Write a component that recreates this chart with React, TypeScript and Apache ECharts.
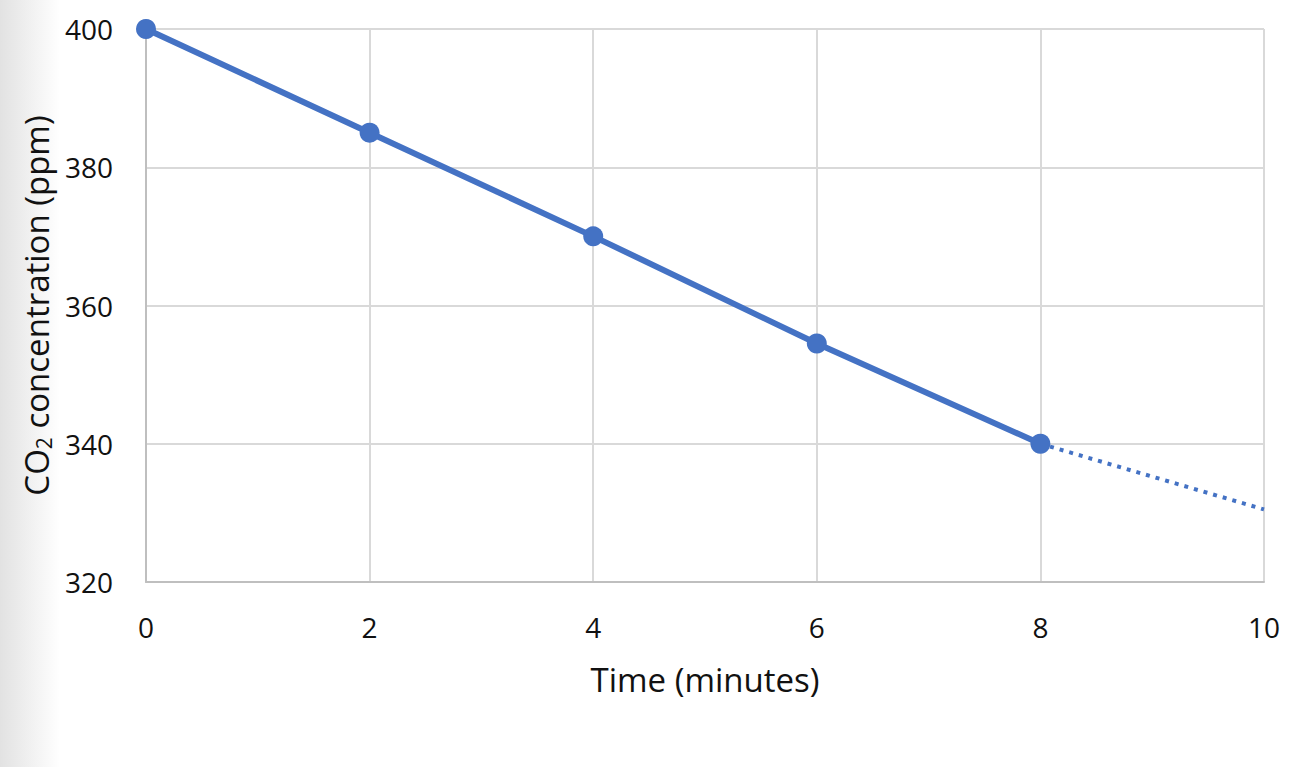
import React, { useEffect, useRef } from "react";
import * as echarts from "echarts";

const times = [0, 2, 4, 6, 8];
const co2 = [400, 385, 370, 354.5, 340];
const trendTimes = [8, 10];
const trendCo2 = [340, 330.5];
const xTicks = [0, 2, 4, 6, 8, 10];
const yTicks = [320, 340, 360, 380, 400];

const FONT = "'Open Sans', 'Noto Sans', sans-serif";
const BLUE = "#4472C4";

export default function App() {
  const ref = useRef<HTMLDivElement>(null);
  useEffect(() => {
    document.body.style.margin = "0";
    const chart = echarts.init(ref.current!, null, { renderer: "svg" });
    chart.setOption({
      animation: false,
      backgroundColor: "#ffffff",
      graphic: [
        {
          type: "rect",
          left: 0,
          top: 0,
          z: -10,
          shape: { width: 60, height: 767 },
          style: {
            fill: new echarts.graphic.LinearGradient(0, 0, 1, 0, [
              { offset: 0, color: "#e2e2e2" },
              { offset: 1, color: "#ffffff" },
            ]),
          },
        },
      ],
      grid: { left: 146, right: 38, top: 29, bottom: 185 },
      xAxis: {
        type: "value",
        min: xTicks[0],
        max: xTicks[xTicks.length - 1],
        interval: 2,
        name: "Time (minutes)",
        nameLocation: "middle",
        nameGap: 81,
        nameTextStyle: { fontFamily: FONT, fontSize: 33, color: "#111" },
        axisLine: { show: true, lineStyle: { color: "#bfbfbf", width: 2 } },
        axisTick: { show: false },
        axisLabel: { fontFamily: FONT, fontSize: 28, color: "#111", margin: 31 },
        splitLine: { show: true, lineStyle: { color: "#d9d9d9", width: 2 } },
      },
      yAxis: {
        type: "value",
        min: yTicks[0],
        max: yTicks[yTicks.length - 1],
        interval: 20,
        name: "CO{sub|2} concentration (ppm)",
        nameLocation: "middle",
        nameRotate: 90,
        nameGap: 90,
        nameTextStyle: {
          fontFamily: FONT,
          fontSize: 33,
          color: "#111",
          rich: {
            sub: { fontFamily: FONT, fontSize: 21, color: "#111", verticalAlign: "bottom", padding: [14, 0, 0, 0] },
          },
        },
        axisLine: { show: true, lineStyle: { color: "#bfbfbf", width: 2 } },
        axisTick: { show: false },
        axisLabel: { fontFamily: FONT, fontSize: 28, color: "#111", margin: 33 },
        splitLine: { show: true, lineStyle: { color: "#d9d9d9", width: 2 } },
      },
      series: [
        {
          type: "line",
          data: trendTimes.map((t, i) => [t, trendCo2[i]]),
          showSymbol: false,
          lineStyle: { color: BLUE, width: 4, type: [4, 6] },
          z: 2,
        },
        {
          type: "line",
          data: times.map((t, i) => [t, co2[i]]),
          symbol: "circle",
          symbolSize: 20,
          itemStyle: { color: BLUE },
          lineStyle: { color: BLUE, width: 6 },
          z: 3,
        },
      ],
    });
    return () => chart.dispose();
  }, []);
  return <div ref={ref} style={{ width: 1302, height: 767 }} />;
}
